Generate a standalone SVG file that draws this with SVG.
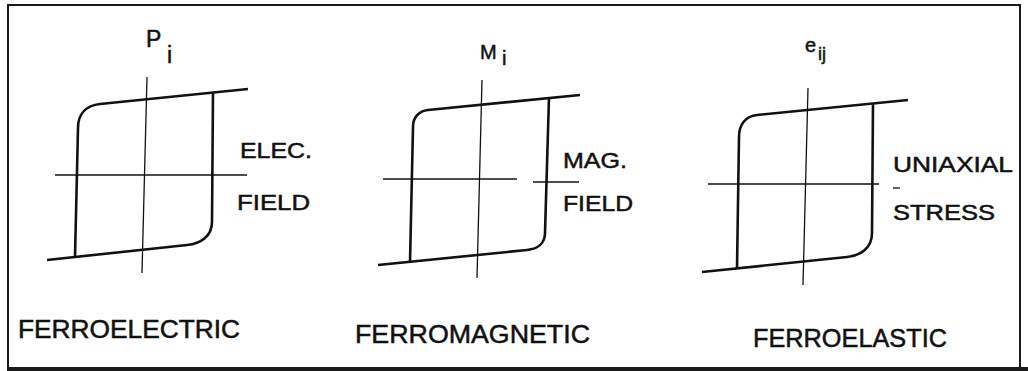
<svg xmlns="http://www.w3.org/2000/svg" width="1028" height="371" viewBox="0 0 1028 371">
  <style>
    .loop { fill: none; stroke: #111; stroke-width: 2.6; stroke-linecap: butt; stroke-linejoin: round; }
    .axis { fill: none; stroke: #111; stroke-width: 1.3; }
    .frame { fill: none; stroke: #1a1a1a; }
    text { font-family: "Liberation Sans", Arial, sans-serif; fill: #111; stroke: #111; stroke-width: 0.5; }
    .lbl { font-size: 22px; }
    .title { font-size: 25px; }
    .sym { font-size: 23px; }
    .sym2 { font-size: 20px; }
    .sub { font-size: 18px; }
  </style>
  <rect x="0" y="0" width="1028" height="371" fill="#ffffff"/>

  <g id="frame">
    <line class="frame" x1="7" y1="5" x2="1021" y2="5" stroke-width="2"/>
    <line class="frame" x1="8" y1="4" x2="8" y2="368" stroke-width="2"/>
    <line class="frame" x1="1020" y1="4" x2="1020" y2="368" stroke-width="2"/>
    <line class="frame" x1="7" y1="369" x2="1028" y2="369" stroke-width="4"/>
  </g>

  <g id="ferroelectric">
    <line class="axis" x1="147" y1="77" x2="142" y2="273"/>
    <line class="axis" x1="55" y1="175" x2="247" y2="175"/>
    <path class="loop" d="M248,89 L100,104 C86,105.5 78,114 78,128 L75,258"/>
    <path class="loop" d="M47,260 L187,245 C201,243.5 212,236 212,222 L213,92"/>
    <text class="sym" x="146" y="47">P</text>
    <text class="sym" x="167" y="63">i</text>
    <text class="lbl" x="240" y="158" textLength="72" lengthAdjust="spacingAndGlyphs">ELEC.</text>
    <text class="lbl" x="237" y="210" textLength="73" lengthAdjust="spacingAndGlyphs">FIELD</text>
    <text class="title" x="18" y="338" textLength="222" lengthAdjust="spacingAndGlyphs">FERROELECTRIC</text>
  </g>

  <g id="ferromagnetic">
    <line class="axis" x1="482" y1="80" x2="477" y2="278"/>
    <line class="axis" x1="383" y1="179" x2="517" y2="179"/>
    <line class="axis" x1="533" y1="182" x2="579" y2="182"/>
    <path class="loop" d="M580,95 L428,110 C419,111 413,117 413,127 L410,263"/>
    <path class="loop" d="M378,265 L527,250 C538,249 545,243 545,233 L549,97"/>
    <text class="sym2" x="480" y="59">M</text>
    <text class="sym2" x="502" y="65">i</text>
    <text class="lbl" x="563" y="168" textLength="64" lengthAdjust="spacingAndGlyphs">MAG.</text>
    <text class="lbl" x="563" y="211" textLength="70" lengthAdjust="spacingAndGlyphs">FIELD</text>
    <text class="title" x="355" y="343" textLength="235" lengthAdjust="spacingAndGlyphs">FERROMAGNETIC</text>
  </g>

  <g id="ferroelastic">
    <line class="axis" x1="808" y1="88" x2="803" y2="285"/>
    <line class="axis" x1="708" y1="184" x2="879" y2="184"/>
    <line class="axis" x1="893" y1="188" x2="900" y2="188"/>
    <path class="loop" d="M908,100 L757,115 C746,116 739,124 739,137 L737,269"/>
    <path class="loop" d="M702,272 L847,257 C861,255.5 872,248 872,233 L873,103"/>
    <text class="sym2" x="805" y="52">e</text>
    <text class="sub" x="818" y="60">ij</text>
    <text class="lbl" x="893" y="172" textLength="120" lengthAdjust="spacingAndGlyphs">UNIAXIAL</text>
    <text class="lbl" x="893" y="220" textLength="102" lengthAdjust="spacingAndGlyphs">STRESS</text>
    <text class="title" x="753" y="347" textLength="194" lengthAdjust="spacingAndGlyphs">FERROELASTIC</text>
  </g>
</svg>
